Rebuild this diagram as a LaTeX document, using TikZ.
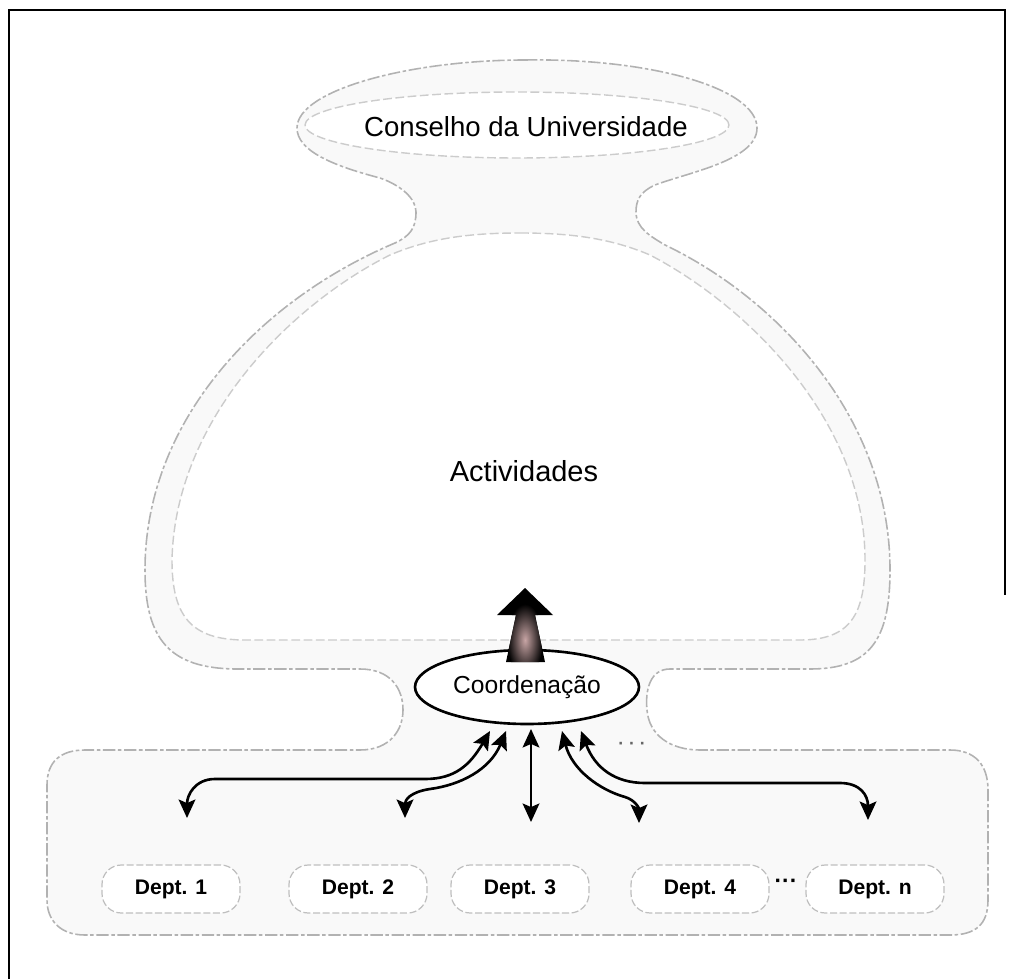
\documentclass[tikz,border=0pt]{standalone}
\usepackage{fontspec}
\setmainfont{Liberation Sans}
\usetikzlibrary{arrows.meta,shapes.geometric}
\definecolor{glow}{RGB}{200,165,165}
\begin{document}
\begin{tikzpicture}[x=0.02cm,y=-0.02cm,
  bandfill/.style={fill=gray!5},
  outerline/.style={draw=gray!60, line width=0.9pt, dash pattern=on 7pt off 1.5pt on 2pt off 1.5pt},
  innerline/.style={draw=gray!40, line width=0.8pt, dash pattern=on 5pt off 2pt},
  deptbox/.style={draw=gray!50, fill=white, line width=0.7pt, dash pattern=on 4pt off 1.5pt,
    rounded corners=11pt, minimum width=2.76cm, minimum height=0.96cm,
    font=\fontsize{12}{14}\selectfont\bfseries},
  link/.style={line width=1.5pt,
    {Stealth[length=10.5pt,width=9.5pt,inset=2pt]}-{Stealth[length=10.5pt,width=9.5pt,inset=2pt]}},
]
\useasboundingbox (0,0) rectangle (1016,979);

% frame
\draw[line width=1.5pt] (9,979) -- (9,10) -- (1005,10) -- (1005,595);

% outer outline: council ring, neck, activity dome, neck, department strip
\path[bandfill, outerline]
  (525,60) .. controls (650,58) and (757,88) .. (757,128)
  .. controls (757,160) and (690,172) .. (655,185)
  .. controls (640,192) and (636,200) .. (636,212)
  .. controls (636,228) and (650,236) .. (665,245)
  .. controls (780,300) and (890,420) .. (890,570)
  .. controls (890,640) and (870,669) .. (810,669)
  -- (670,669)
  .. controls (650,669) and (645,690) .. (647,710)
  .. controls (649,735) and (670,750) .. (700,750)
  -- (950,750)
  .. controls (975,750) and (988,765) .. (988,790)
  -- (988,900)
  .. controls (988,925) and (975,935) .. (950,935)
  -- (85,935)
  .. controls (60,935) and (47,920) .. (47,900)
  -- (47,785)
  .. controls (47,762) and (60,750) .. (85,750)
  -- (360,750)
  .. controls (390,750) and (403,730) .. (403,710)
  .. controls (403,688) and (390,669) .. (360,669)
  -- (235,669)
  .. controls (170,668) and (145,640) .. (145,570)
  .. controls (145,420) and (260,300) .. (395,243)
  .. controls (410,236) and (416,228) .. (416,212)
  .. controls (416,198) and (400,185) .. (380,178)
  .. controls (330,165) and (297,150) .. (297,128)
  .. controls (297,90) and (410,60) .. (525,60) -- cycle;

% inner outlines
\path[fill=white, innerline] (517,125) ellipse [x radius=4.24cm, y radius=0.66cm];
\path[fill=white, innerline]
  (520,233) .. controls (570,233) and (610,238) .. (650,255)
  .. controls (746,305) and (865,420) .. (865,560)
  .. controls (865,615) and (850,640) .. (800,640)
  -- (245,640)
  .. controls (190,640) and (172,615) .. (172,560)
  .. controls (175,420) and (290,305) .. (390,255)
  .. controls (430,238) and (470,233) .. (520,233) -- cycle;

% labels
\node[font=\fontsize{15.7}{18}\selectfont] (council) at (526,127) {Conselho da Universidade};
\node[font=\fontsize{16.5}{19}\selectfont] (acts) at (524,471) {Actividades};

% coordination
\node[ellipse, draw, line width=1.5pt, fill=white, minimum width=4.48cm, minimum height=1.48cm,
  inner sep=0pt, font=\fontsize{14}{16}\selectfont] (coord) at (527,687) {Coordenação};

% thick arrow rising from the coordination
\fill[black] (525,588) -- (553,615) -- (535,615) -- (545,662) -- (506,662) -- (516,615) -- (497,615) -- cycle;
\begin{scope}
  \clip (525,588) -- (553,615) -- (535,615) -- (545,662) -- (506,662) -- (516,615) -- (497,615) -- cycle;
  \shade[inner color=glow, outer color=black] (525,640) ellipse [x radius=0.36cm, y radius=0.72cm];
\end{scope}

% departments
\node[deptbox] (d1) at (171,889) {Dept. 1};
\node[deptbox] (d2) at (358,889) {Dept. 2};
\node[deptbox] (d3) at (520,889) {Dept. 3};
\node[deptbox] (d4) at (700,889) {Dept. 4};
\node[deptbox] (dn) at (875,889) {Dept. n};
\node[font=\fontsize{13}{14}\selectfont\bfseries] (gap) at (786,884) {···};
\node[font=\fontsize{10}{10}\selectfont\bfseries, text=gray!80!black] (more) at (632,746) {· · ·};

% arrow ends
\coordinate (t1) at (490,731);
\coordinate (t2) at (506,731);
\coordinate (t3) at (531,729);
\coordinate (t4) at (562,731);
\coordinate (t5) at (581,731);
\coordinate (b1) at (187,818);
\coordinate (b2) at (405,818);
\coordinate (b3) at (531,822);
\coordinate (b4) at (639,823);
\coordinate (b5) at (868,820);

\draw[link] (t1) .. controls (470,765) and (455,779) .. (425,779) -- (215,779)
  .. controls (195,779) and (187,795) .. (b1);
\draw[link] (t2) .. controls (490,770) and (460,785) .. (430,789)
  .. controls (410,792) and (405,800) .. (b2);
\draw[link] (t3) -- (b3);
\draw[link] (t4) .. controls (572,770) and (600,790) .. (625,797)
  .. controls (635,800) and (639,808) .. (b4);
\draw[link] (t5) .. controls (595,768) and (615,783) .. (645,783) -- (840,783)
  .. controls (860,783) and (868,795) .. (b5);
\end{tikzpicture}
\end{document}
